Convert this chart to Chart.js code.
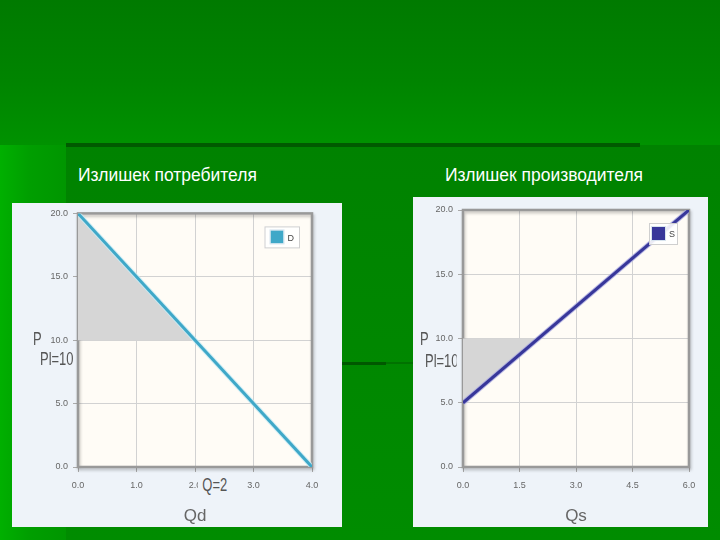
<!DOCTYPE html>
<html>
<head>
<meta charset="utf-8">
<script src="https://cdn.jsdelivr.net/npm/chart.js@4.4.0/dist/chart.umd.min.js"></script>
<style>
  body { margin: 0; width: 720px; height: 540px; overflow: hidden; position: relative;
         background: linear-gradient(#007a00 0px, #008400 80px, #009200 145px); font-family: "Liberation Sans", Arial, sans-serif; }
  .blk { position: absolute; }
  .title { position: absolute; color: #fff; font-size: 18px; top: 165px; white-space: nowrap; transform-origin: left center; transform: scaleX(0.97); }
  canvas { position: absolute; }
  .lbl { position: absolute; color: #555; font-size: 18px; white-space: nowrap; transform-origin: left center; transform: scaleX(0.72); line-height: 20px; }
</style>
</head>
<body>
<div class="blk" style="left:0;top:145px;width:66px;height:395px;background:linear-gradient(90deg,#00b000 0px,#009e00 30px,#009600 66px)"></div>
<div class="blk" style="left:66px;top:145px;width:654px;height:395px;background:linear-gradient(#008200,#008c00)"></div>
<div class="blk" style="left:66px;top:143px;width:574px;height:4px;background:#005a00"></div>
<div class="blk" style="left:342px;top:362px;width:44px;height:3px;background:#005800"></div>
<div class="blk" style="left:386px;top:362px;width:30px;height:2px;background:#007200"></div>

<div class="title" style="left:78px">Излишек потребителя</div>
<div class="title" style="left:445px">Излишек производителя</div>

<canvas id="dChart" width="330" height="324" style="left:12px;top:203px"></canvas>
<canvas id="sChart" width="295" height="330" style="left:413px;top:197px"></canvas>

<div class="lbl" style="left:33px;top:329px">P</div>
<div class="lbl" style="left:40px;top:349px">Pl=10</div>
<div class="lbl" style="left:198px;top:475px;background:#eef3f9;padding:0 4px 0 6px">Q=2</div>
<div class="lbl" style="left:420px;top:329px">P</div>
<div class="lbl" style="left:425px;top:351px;width:44px;overflow:hidden">Pl=10</div>

<script>
// demand / supply lines (Q, P)
const demandQ = [0, 4];
const demandP = [20, 0];
const supplyQ = [0, 6];
const supplyP = [5, 20];
// equilibrium
const eqQ = 2;
const eqP = 10;
// surplus triangles
const csQ = [0, eqQ];
const csP = [20, eqP];
const psQ = [0, eqQ];
const psP = [5, eqP];
// ticks
const priceTicks = [0, 5, 10, 15, 20];
const dQTicks = [0, 1, 2, 3, 4];
const sQTicks = [0, 1.5, 3, 4.5, 6];

function pts(xs, ys) {
    return xs.map(function (x, i) { return { x: x, y: ys[i] }; });
}

const framePlugin = {
    id: 'frame',
    beforeDraw(chart) {
        const a = chart.chartArea, ctx = chart.ctx;
        ctx.save();
        ctx.fillStyle = '#eef3f9';
        ctx.fillRect(0, 0, chart.width, chart.height);
        ctx.fillStyle = '#fffcf6';
        ctx.fillRect(a.left, a.top, a.right - a.left, a.bottom - a.top);
        ctx.restore();
    },
    beforeDatasetsDraw(chart) {
        const a = chart.chartArea, ctx = chart.ctx;
        ctx.save();
        ctx.shadowColor = 'rgba(0,0,0,0.25)';
        ctx.shadowBlur = 3;
        ctx.shadowOffsetX = 1;
        ctx.shadowOffsetY = 2;
        ctx.strokeStyle = '#999';
        ctx.lineWidth = 2.5;
        ctx.strokeRect(a.left, a.top, a.right - a.left, a.bottom - a.top);
        ctx.restore();
    },
    afterDraw(chart, args, opts) {
        const a = chart.chartArea, ctx = chart.ctx;
        const ds = chart.data.datasets[opts.index];
        ctx.save();
        ctx.font = '9px "Liberation Sans", Arial';
        const tw = ctx.measureText(ds.label).width;
        const w = opts.pad + 13 + 4 + tw + opts.pad;
        const h = 22;
        const x = a.right - opts.right - w, y = a.top + 13;
        ctx.fillStyle = 'rgba(255,255,255,0.9)';
        ctx.fillRect(x, y, w, h);
        ctx.strokeStyle = '#cfcfcf';
        ctx.lineWidth = 1;
        ctx.strokeRect(x + 0.5, y + 0.5, w - 1, h - 1);
        ctx.fillStyle = ds.borderColor;
        ctx.fillRect(x + opts.pad, y + 4, 13, 13);
        ctx.strokeStyle = '#d8e4ee';
        ctx.strokeRect(x + opts.pad - 0.5, y + 3.5, 14, 14);
        ctx.fillStyle = '#444';
        ctx.textBaseline = 'middle';
        ctx.fillText(ds.label, x + opts.pad + 17, y + h / 2 + 1);
        ctx.restore();
    }
};

function makeChart(id, line, area, color, halo, xTicks, xTitle, yWidth, padding, legendOpts) {
    return new Chart(document.getElementById(id), {
        type: 'line',
        data: {
            datasets: [
                {
                    label: line.label,
                    data: line.data,
                    borderColor: color,
                    borderWidth: 3,
                    pointRadius: 0,
                    fill: false,
                    order: 1
                },
                {
                    label: 'halo',
                    data: line.data,
                    borderColor: halo,
                    borderWidth: 5,
                    pointRadius: 0,
                    fill: false,
                    order: 2
                },
                {
                    label: 'area',
                    data: area,
                    borderWidth: 0,
                    pointRadius: 0,
                    backgroundColor: '#d6d6d6',
                    fill: { value: eqP },
                    order: 3
                }
            ]
        },
        options: {
            responsive: false,
            animation: false,
            layout: { padding: padding },
            plugins: {
                legend: { display: false },
                tooltip: { enabled: false },
                frame: legendOpts
            },
            scales: {
                x: {
                    type: 'linear',
                    min: xTicks[0],
                    max: xTicks[xTicks.length - 1],
                    afterBuildTicks(scale) { scale.ticks = xTicks.map(function (v) { return { value: v }; }); },
                    afterFit(scale) { scale.height = 60; },
                    grid: { color: '#d2d2d2', tickLength: 5, tickColor: '#aaa' },
                    border: { display: false },
                    ticks: {
                        padding: 8,
                        color: '#666',
                        font: { size: 9, family: '"Liberation Sans", Arial' },
                        callback: function (v) { return Number(v).toFixed(1); }
                    },
                    title: {
                        display: true,
                        text: xTitle,
                        color: '#666',
                        font: { size: 17, family: '"Liberation Sans", Arial' },
                        padding: { top: 4, bottom: 0 }
                    }
                },
                y: {
                    type: 'linear',
                    min: priceTicks[0],
                    max: priceTicks[priceTicks.length - 1],
                    afterBuildTicks(scale) { scale.ticks = priceTicks.map(function (v) { return { value: v }; }); },
                    afterFit(scale) { scale.width = yWidth; },
                    grid: { color: '#d2d2d2', tickLength: 5, tickColor: '#aaa' },
                    border: { display: false },
                    ticks: {
                        padding: 5,
                        color: '#666',
                        font: { size: 9, family: '"Liberation Sans", Arial' },
                        callback: function (v) { return Number(v).toFixed(1); }
                    }
                }
            }
        },
        plugins: [framePlugin]
    });
}

makeChart('dChart', { label: 'D', data: pts(demandQ, demandP) }, pts(csQ, csP), '#3fa8c8', 'rgba(200,235,245,0.8)',
    dQTicks, 'Qd', 66, { top: 9, right: 30, left: 0, bottom: 0 }, { index: 0, pad: 6, right: 12 });
makeChart('sChart', { label: 'S', data: pts(supplyQ, supplyP) }, pts(psQ, psP), '#38379a', 'rgba(170,170,225,0.8)',
    sQTicks, 'Qs', 50, { top: 13, right: 19, left: 0, bottom: 0 }, { index: 0, pad: 3, right: 11 });
</script>
</body>
</html>
